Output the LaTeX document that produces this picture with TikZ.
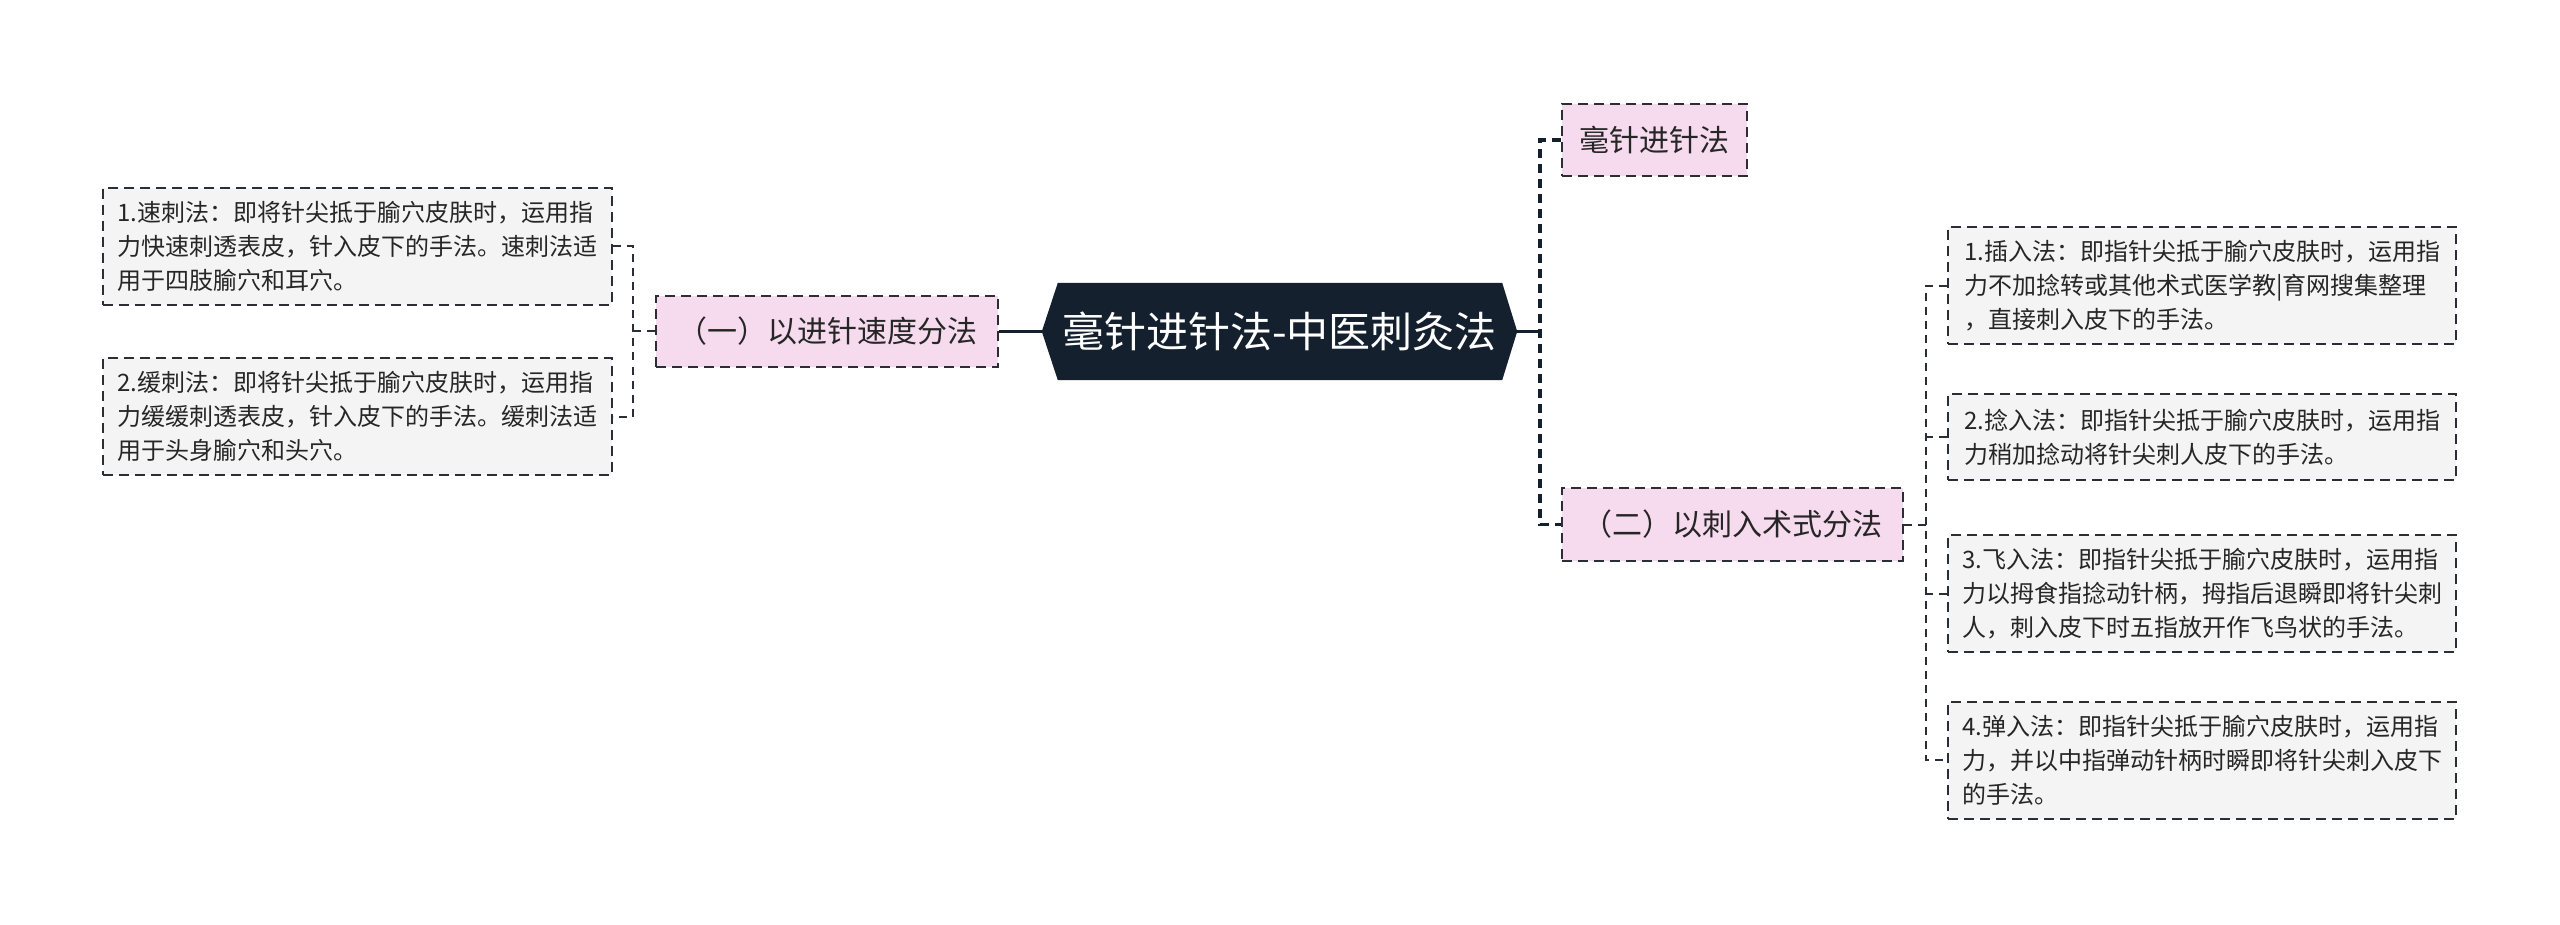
\documentclass[tikz,border=0pt]{standalone}
\usepackage{fontspec}
\newfontfamily\cjk{Noto Sans CJK SC}
\usetikzlibrary{backgrounds}
\definecolor{navy}{HTML}{15202F}
\definecolor{pinkfill}{HTML}{F6DBEF}
\definecolor{leaffill}{HTML}{F4F4F4}
\definecolor{edge}{HTML}{2A2E36}
\begin{document}
\begin{tikzpicture}[x=1pt,y=-1pt,
  leaf/.style={draw=edge, fill=leaffill, line width=2pt, dash pattern=on 10pt off 6pt,
    minimum width=509pt, minimum height=117pt, inner sep=0pt, align=left,
    font=\cjk\fontsize{24}{34}\selectfont, text=black!85},
  branch/.style={draw=edge, fill=pinkfill, line width=2pt, dash pattern=on 10pt off 6pt,
    inner sep=0pt, font=\cjk\fontsize{30}{36}\selectfont, text=black!85},
  rootnode/.style={minimum width=475pt, minimum height=97pt, inner sep=0pt,
    font=\cjk\fontsize{42}{48}\selectfont, text=white},
  solidlink/.style={draw=navy, line width=3pt},
  spinelink/.style={draw=navy, line width=3.5pt, dash pattern=on 9pt off 6pt},
  thinlink/.style={draw=edge, line width=2pt, dash pattern=on 8pt off 6pt}]
\useasboundingbox (0,0) rectangle (2560,925);

% nodes
\node[rootnode] (c) at (1279.5,331.5) {毫针进针法-中医刺灸法};
\begin{scope}[on background layer]
\fill[navy] (c.west) -- ([xshift=16pt]c.north west) -- ([xshift=-15pt]c.north east)
  -- (c.east) -- ([xshift=-15pt]c.south east) -- ([xshift=16pt]c.south west) -- cycle;
\end{scope}

\node[branch, minimum width=342pt, minimum height=71pt] (lb) at (827,331.5) {（一）以进针速度分法};
\node[leaf] (l1) at (357.5,246.5) {1.速刺法：即将针尖抵于腧穴皮肤时，运用指\\力快速刺透表皮，针入皮下的手法。速刺法适\\用于四肢腧穴和耳穴。};
\node[leaf] (l2) at (357.5,416.5) {2.缓刺法：即将针尖抵于腧穴皮肤时，运用指\\力缓缓刺透表皮，针入皮下的手法。缓刺法适\\用于头身腧穴和头穴。};

\node[branch, minimum width=185pt, minimum height=72pt] (t1) at (1654.5,140) {毫针进针法};
\node[branch, minimum width=341pt, minimum height=73pt] (b2) at (1732.5,524.5) {（二）以刺入术式分法};

\node[leaf, minimum width=508pt] (r1) at (2202,286) {1.插入法：即指针尖抵于腧穴皮肤时，运用指\\力不加捻转或其他术式医学教|育网搜集整理\\，直接刺入皮下的手法。};
\node[leaf, minimum width=508pt, minimum height=86pt] (r2) at (2202,437) {2.捻入法：即指针尖抵于腧穴皮肤时，运用指\\力稍加捻动将针尖刺人皮下的手法。};
\node[leaf, minimum width=508pt] (r3) at (2202,593.5) {3.飞入法：即指针尖抵于腧穴皮肤时，运用指\\力以拇食指捻动针柄，拇指后退瞬即将针尖刺\\人，刺入皮下时五指放开作飞鸟状的手法。};
\node[leaf, minimum width=508pt] (r4) at (2202,760) {4.弹入法：即指针尖抵于腧穴皮肤时，运用指\\力，并以中指弹动针柄时瞬即将针尖刺入皮下\\的手法。};

% junction points
\coordinate (sL) at (633,331.5);
\coordinate (sM) at (1540,331.5);
\coordinate (sR) at (1926,524.5);

% connectors
\draw[solidlink] (c.west) -- (lb.east);
\draw[solidlink] (c.east) -- (sM);
\draw[thinlink] (lb.west) -- (sL);
\draw[thinlink] (l1.east) -- (l1.east -| sL) |- (l2.east);
\draw[spinelink] (t1.west) -- (t1.west -| sM) |- (b2.west);
\draw[thinlink] (b2.east) -- (sR);
\draw[thinlink] (r1.west) -- (r1.west -| sR) |- (r4.west);
\draw[thinlink] (r2.west) -- (r2.west -| sR);
\draw[thinlink] (r3.west) -- (r3.west -| sR);
\end{tikzpicture}
\end{document}
